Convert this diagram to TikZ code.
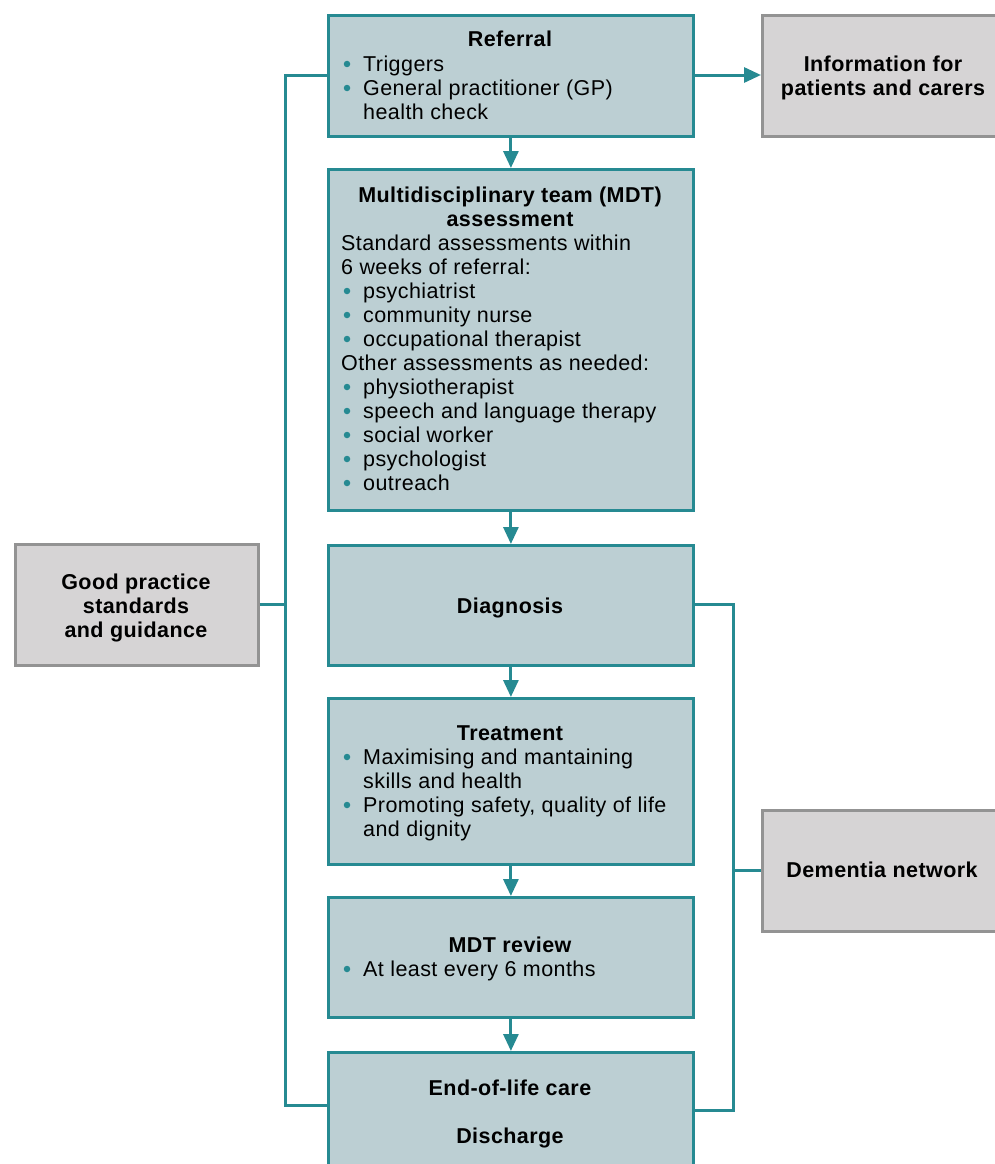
\documentclass[tikz,border=0pt]{standalone}
\usepackage{fontspec}
\setmainfont{Liberation Sans}[LetterSpace=2]
\usetikzlibrary{arrows.meta}
\definecolor{teal1}{HTML}{268A92}
\definecolor{boxfill}{HTML}{BCCFD3}
\definecolor{greyfill}{HTML}{D6D4D5}
\definecolor{greyline}{HTML}{939393}
\tikzset{
  mainbox/.style={draw=teal1, fill=boxfill, line width=2.8pt, rectangle, inner sep=0pt, anchor=north west},
  greybox/.style={draw=greyline, fill=greyfill, line width=2.8pt, rectangle, inner sep=0pt, anchor=north west},
  conn/.style={draw=teal1, line width=3pt},
  arr/.style={conn, -{Triangle[length=17pt,width=15pt]}},
  ttl/.style={inner sep=0pt, anchor=base, font=\bfseries},
  txt/.style={inner sep=0pt, anchor=base west},
  bul/.style={circle, fill=teal1, inner sep=0pt, minimum size=6.5pt},
}
\newcommand{\bl}[3]{\node[bul] (#1b) at (347,#2-7) {}; \node[txt] (#1) at (363,#2) {#3};}
\begin{document}
\begin{tikzpicture}[x=1pt,y=-1pt]
\fontsize{21.5}{24}\selectfont
\useasboundingbox (0,0) rectangle (994,1164);
% boxes
\node[mainbox, minimum width=365pt, minimum height=121pt] (ref) at (327,14) {};
\node[mainbox, minimum width=365pt, minimum height=341pt] (mdt) at (327,168) {};
\node[mainbox, minimum width=365pt, minimum height=120pt] (diag) at (327,544) {};
\node[mainbox, minimum width=365pt, minimum height=166pt] (treat) at (327,697) {};
\node[mainbox, minimum width=365pt, minimum height=120pt] (rev) at (327,896) {};
\node[mainbox, minimum width=365pt, minimum height=140pt] (eol) at (327,1051) {};
\node[greybox, minimum width=260pt, minimum height=121pt] (info) at (761,14) {};
\node[greybox, minimum width=243pt, minimum height=121pt] (good) at (14,543) {};
\node[greybox, minimum width=260pt, minimum height=121pt] (net) at (761,809) {};
% referral text
\node[ttl] (reft) at (510,47) {Referral};
\bl{r1}{71}{Triggers}
\bl{r2}{95}{General practitioner (GP)}
\node[txt] (r3) at (363,119) {health check};
% MDT text
\node[ttl] (mdtt1) at (510,202) {Multidisciplinary team (MDT)};
\node[ttl] (mdtt2) at (510,226) {assessment};
\node[txt] (m1) at (341,250) {Standard assessments within};
\node[txt] (m2) at (341,274) {6 weeks of referral:};
\bl{m3}{298}{psychiatrist}
\bl{m4}{322}{community nurse}
\bl{m5}{346}{occupational therapist}
\node[txt] (m6) at (341,370) {Other assessments as needed:};
\bl{m7}{394}{physiotherapist}
\bl{m8}{418}{speech and language therapy}
\bl{m9}{442}{social worker}
\bl{m10}{466}{psychologist}
\bl{m11}{490}{outreach}
% diagnosis
\node[ttl] (diagt) at (510,613) {Diagnosis};
% treatment
\node[ttl] (treatt) at (510,740) {Treatment};
\bl{t1}{764}{Maximising and mantaining}
\node[txt] (t2) at (363,788) {skills and health};
\bl{t3}{812}{Promoting safety, quality of life}
\node[txt] (t4) at (363,836) {and dignity};
% review
\node[ttl] (revt) at (510,952) {MDT review};
\bl{v1}{976}{At least every 6 months}
% end of life
\node[ttl] (eolt1) at (510,1095) {End-of-life care};
\node[ttl] (eolt2) at (510,1143) {Discharge};
% grey texts
\node[ttl] (info1) at (883,71) {Information for};
\node[ttl] (info2) at (883,95) {patients and carers};
\node[ttl] (good1) at (136,589) {Good practice};
\node[ttl] (good2) at (136,613) {standards};
\node[ttl] (good3) at (136,637) {and guidance};
\node[ttl] (net1) at (882,877) {Dementia network};
% arrows down
\draw[arr] (ref.south) -- (mdt.north);
\draw[arr] (mdt.south) -- (diag.north);
\draw[arr] (diag.south) -- (treat.north);
\draw[arr] (treat.south) -- (rev.north);
\draw[arr] (rev.south) -- (eol.north);
\draw[arr] (ref.east |- 0,75) -- (info.west |- 0,75);
% left bus
\coordinate (lt) at (285,75);
\coordinate (lb) at (285,1105);
\draw[conn] (ref.west |- lt) -- (lt) -- (lb) -- (eol.west |- lb);
\draw[conn] (good.east |- 0,604) -- (285,604);
% right bus
\coordinate (rt) at (733,604);
\coordinate (rb) at (733,1110);
\draw[conn] (diag.east |- rt) -- (rt) -- (rb) -- (eol.east |- rb);
\draw[conn] (733,870) -- (net.west |- 0,870);
\end{tikzpicture}
\end{document}
